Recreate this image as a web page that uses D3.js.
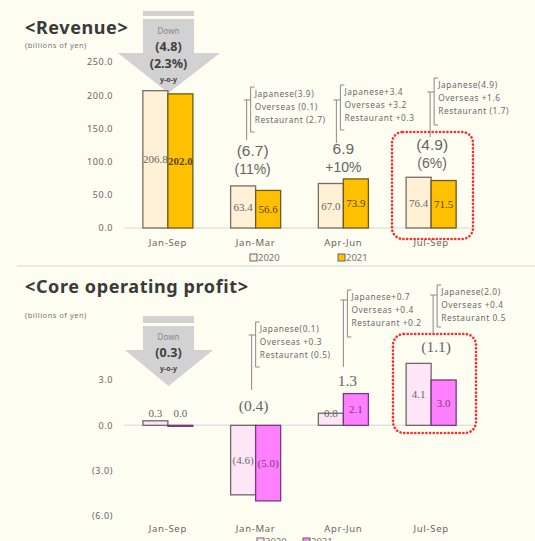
<!DOCTYPE html>
<html>
<head>
<meta charset="utf-8">
<script src="https://cdn.jsdelivr.net/npm/d3@7"></script>
<style>
  body { margin: 0; background: #fdfdf2; }
  svg { display: block; font-family: "Noto Sans", sans-serif; }
</style>
</head>
<body>
<div id="chart"></div>
<script>
// data (billions of yen)
const categories = ["Jan-Sep", "Jan-Mar", "Apr-Jun", "Jul-Sep"];
const years = ["2020", "2021"];
const revenue2020 = [206.8, 63.4, 67.0, 76.4];
const revenue2021 = [202.0, 56.6, 73.9, 71.5];
const profit2020 = [0.3, -4.6, 0.8, 4.1];
const profit2021 = [0.0, -5.0, 2.1, 3.0];
const revenueTicks = [0, 50, 100, 150, 200, 250];
const profitTicks = [-6, -3, 0, 3];

const revenueYoY = ["Down", "(4.8)", "(2.3%)", "y-o-y"];
const profitYoY = ["Down", "(0.3)", "y-o-y"];
const revenueChange = ["(6.7)", "6.9", "(4.9)"];
const revenueChangePct = ["(11%)", "+10%", "(6%)"];
const profitChange = ["(0.4)", "1.3", "(1.1)"];
const revenueBreakdown = [
  ["Japanese(3.9)", "Overseas (0.1)", "Restaurant (2.7)"],
  ["Japanese+3.4", "Overseas +3.2", "Restaurant +0.3"],
  ["Japanese(4.9)", "Overseas +1.6", "Restaurant (1.7)"]
];
const profitBreakdown = [
  ["Japanese(0.1)", "Overseas +0.3", "Restaurant (0.5)"],
  ["Japanese+0.7", "Overseas +0.4", "Restaurant +0.2"],
  ["Japanese(2.0)", "Overseas +0.4", "Restaurant 0.5"]
];

const W = 535, H = 541;
const svg = d3.select("#chart").append("svg")
    .attr("width", W).attr("height", H);

svg.append("rect").attr("width", W).attr("height", H).attr("fill", "#fdfdf2");

// shared x scales
const x = d3.scaleBand().domain(categories).range([124, 475])
    .paddingInner(0.43).paddingOuter(0.215);
const xSub = d3.scaleBand().domain(years).range([0, x.bandwidth()]);

const fmtNum = v => v < 0 ? `(${d3.format(".1f")(-v)})` : d3.format(".1f")(v);

function panel(o) {
  const g = svg.append("g");
  const y = d3.scaleLinear().domain(o.domain).range(o.range);

  // title
  g.append("text").attr("x", 25).attr("y", o.titleY)
      .style("font-size", "18px").style("font-weight", 700).style("letter-spacing", "0.6px")
      .style("fill", "#3a3a3a")
      .text(o.title);
  g.append("text").attr("x", 25).attr("y", o.unitY)
      .style("font-size", "7.5px").style("letter-spacing", "0.5px").style("fill", "#777")
      .text("(billions of yen)");

  // y axis labels
  const ya = g.append("g").attr("transform", "translate(113,0)")
      .call(d3.axisLeft(y).tickValues(o.ticks).tickFormat(fmtNum).tickSize(0).tickPadding(0));
  ya.select(".domain").remove();
  ya.selectAll("text").style("font-size", "9px").style("letter-spacing", "0.6px")
      .style("fill", "#666").style("font-family", "Noto Sans");

  // baseline
  g.append("line").attr("x1", 124).attr("x2", 476)
      .attr("y1", y(0)).attr("y2", y(0))
      .attr("stroke", "#e3e3e3").attr("stroke-width", 1.5);

  // down arrow
  const a = o.arrow;
  g.append("path")
      .attr("d", `M143,${a.top} H194 V${a.neck} H${a.wr} L168.5,${a.tip} L${a.wl},${a.neck} H143 Z`)
      .attr("fill", "#d2d2d2");
  g.append("rect").attr("x", 143).attr("y", a.stripe).attr("width", 51).attr("height", 3)
      .attr("fill", "#fdfdf2");
  o.yoy.forEach((t, i) => {
    const small = i === 0 || i === o.yoy.length - 1;
    g.append("text").attr("x", 168.5).attr("y", a.textY[i])
        .attr("text-anchor", "middle")
        .style("font-size", i === 0 ? "8px" : (small ? "7px" : "12.5px"))
        .style("font-weight", i > 0 ? 700 : 400)
        .style("fill", i === 0 ? "#888" : "#404040")
        .text(t);
  });

  // bars
  const rows = categories.map((c, i) => ({ c, v: [
    { key: "2020", value: o.v2020[i] }, { key: "2021", value: o.v2021[i] }] }));
  const grp = g.append("g").selectAll("g").data(rows).join("g")
      .attr("transform", d => `translate(${x(d.c)},0)`);
  grp.selectAll("rect").data(d => d.v).join("rect")
      .attr("x", d => xSub(d.key))
      .attr("y", d => y(Math.max(0, d.value)))
      .attr("width", xSub.bandwidth())
      .attr("height", d => Math.max(1, Math.abs(y(d.value) - y(0))))
      .attr("fill", d => o.fill[d.key])
      .attr("stroke", d => o.stroke[d.key]).attr("stroke-width", 1.3);
  grp.selectAll("text.val").data(d => d.v).join("text").attr("class", "val")
      .attr("x", d => xSub(d.key) + xSub.bandwidth() / 2)
      .attr("y", d => {
        const h = Math.abs(y(d.value) - y(0));
        if (h < 8) return y(0) - 8;
        if (h < 16) return y(d.value) + 4;
        return (y(d.value) + y(0)) / 2 + 4;
      })
      .attr("text-anchor", "middle")
      .style("font-family", "Liberation Serif, serif").style("font-size", "11px")
      .style("fill", d => Math.abs(d.value) < 0.05 ? "#666" : o.label[d.key])
      .style("font-weight", d => d.key === "2021" && o.boldBig && d.value > 100 ? 700 : 400)
      .text(d => fmtNum(d.value));

  // category labels
  g.selectAll("text.cat").data(categories).join("text").attr("class", "cat")
      .attr("x", d => x(d) + x.bandwidth() / 2).attr("y", o.catY)
      .attr("text-anchor", "middle")
      .style("font-size", "9.5px").style("letter-spacing", "0.7px").style("fill", "#666")
      .text(d => d);

  // legend
  years.forEach((yr, i) => {
    const lx = o.legendX[i];
    g.append("rect").attr("x", lx).attr("y", o.legendY - 7).attr("width", 7).attr("height", 7)
        .attr("fill", o.fill[yr]).attr("stroke", "#666").attr("stroke-width", 1);
    g.append("text").attr("x", lx + 8).attr("y", o.legendY)
        .style("font-size", "9.5px").style("fill", "#777").text(yr);
  });

  // breakdown notes with brackets
  o.notes.forEach((n, i) => {
    const cx = x(categories[i + 1]) + x.bandwidth() / 2;
    const bx = cx + n.dx;
    g.append("path")
        .attr("d", `M${bx + 4},${n.top} H${bx} V${n.bottom} H${bx + 4}` +
                   ` M${bx - 7},${n.tee} H${bx} M${bx - 4},${n.tee} V${n.lead}`)
        .attr("fill", "none").attr("stroke", "#8a8a8a").attr("stroke-width", 1);
    o.breakdown[i].forEach((t, j) => {
      g.append("text").attr("x", bx + 4).attr("y", n.top + 10 + j * 13)
          .style("font-size", "8.3px").style("letter-spacing", "0.6px").style("fill", "#6a6a6a")
          .text(t);
    });
    g.append("text").attr("x", cx + n.lx).attr("y", n.ly)
        .attr("text-anchor", "middle")
        .style("font-family", o.bigFont).style("font-size", "15.5px").style("fill", "#666")
        .text(o.change[i]);
    if (o.pct) {
      g.append("text").attr("x", cx + n.lx).attr("y", n.ly + 18)
          .attr("text-anchor", "middle")
          .style("font-family", o.bigFont).style("font-size", "14px").style("fill", "#666")
          .text(o.pct[i]);
    }
  });

  // red dotted highlight box
  const b = o.box;
  g.append("rect").attr("x", b.x).attr("y", b.y).attr("width", b.w).attr("height", b.h)
      .attr("rx", 11).attr("fill", "none")
      .attr("stroke", "#ff2a2a").attr("stroke-width", 2.6).attr("stroke-dasharray", "0.1,3.6")
      .attr("stroke-linecap", "round");
}

panel({
  title: "<Revenue>", titleY: 34, unitY: 48,
  domain: [0, 250], range: [228, 62], ticks: revenueTicks,
  v2020: revenue2020, v2021: revenue2021,
  fill: { "2020": "#fff1d6", "2021": "#ffc000" },
  stroke: { "2020": "#7a6e60", "2021": "#6e5a20" },
  label: { "2020": "#666", "2021": "#5a4400" }, boldBig: true,
  arrow: { top: 11, stripe: 16, neck: 53, wl: 118, wr: 220, tip: 93, textY: [34, 51, 68, 82] },
  yoy: revenueYoY,
  catY: 246, legendX: [250, 338], legendY: 261,
  notes: [
    { dx: -5, top: 87, bottom: 132, tee: 100, lead: 140, lx: -3, ly: 156 },
    { dx: -3, top: 85, bottom: 130, tee: 100, lead: 143, lx: 0, ly: 154 },
    { dx: 3, top: 78, bottom: 125, tee: 92, lead: 137, lx: 1, ly: 150 }
  ],
  breakdown: revenueBreakdown, change: revenueChange, pct: revenueChangePct,
  bigFont: "Liberation Sans, sans-serif",
  box: { x: 392, y: 132, w: 81, h: 107 }
});

// panel separator
svg.append("line").attr("x1", 17).attr("x2", W).attr("y1", 266).attr("y2", 266)
    .attr("stroke", "#e2e2e2").attr("stroke-width", 1.5);

panel({
  title: "<Core operating profit>", titleY: 293, unitY: 318,
  domain: [-6, 3], range: [516, 380], ticks: profitTicks,
  v2020: profit2020, v2021: profit2021,
  fill: { "2020": "#ffe6f7", "2021": "#ff80ff" },
  stroke: { "2020": "#6a6a6a", "2021": "#7a3a7a" },
  label: { "2020": "#666", "2021": "#7a3a7a" }, boldBig: false,
  arrow: { top: 316, stripe: 323, neck: 350, wl: 125, wr: 213, tip: 386, textY: [340, 357, 371] },
  yoy: profitYoY,
  catY: 532, legendX: [257, 303], legendY: 545,
  notes: [
    { dx: 0, top: 322, bottom: 367, tee: 335, lead: 390, lx: -2, ly: 411 },
    { dx: 4, top: 290, bottom: 337, tee: 300, lead: 367, lx: 4, ly: 386 },
    { dx: 6, top: 285, bottom: 327, tee: 295, lead: 335, lx: 5, ly: 352 }
  ],
  breakdown: profitBreakdown, change: profitChange, pct: null,
  bigFont: "Liberation Serif, serif",
  box: { x: 393, y: 334, w: 83, h: 99 }
});
</script>
</body>
</html>
